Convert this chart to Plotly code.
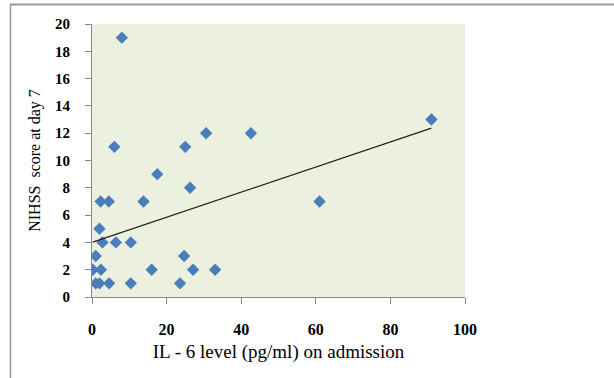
import plotly.graph_objects as go

# IL-6 level (pg/ml) on admission
il6 = [8, 6, 17.5, 25, 30.6, 42.6, 91, 61, 33, 26.3, 2.3, 4.5, 13.8, 2,
       2.8, 6.4, 10.4, 1, 24.7, 0.2, 2.4, 16, 27.1, 1, 2, 4.6, 10.4, 23.6]
# NIHSS score at day 7
nihss = [19, 11, 9, 11, 12, 12, 13, 7, 2, 8, 7, 7, 7, 5,
         4, 4, 4, 3, 3, 2, 2, 2, 2, 1, 1, 1, 1, 1]

# linear trend line
trend_intercept = 4.0
trend_slope = 0.092

x_ticks = [0, 20, 40, 60, 80, 100]
y_ticks = [0, 2, 4, 6, 8, 10, 12, 14, 16, 18, 20]

tx = [min(il6), max(il6)]
ty = [trend_intercept + trend_slope * v for v in tx]

fig = go.Figure()
fig.add_trace(go.Scatter(x=il6, y=nihss, mode="markers",
                         marker=dict(symbol="diamond", size=9.5, color="#4A7EBB",
                                     line=dict(width=0)),
                         showlegend=False, hoverinfo="skip"))
fig.add_trace(go.Scatter(x=tx, y=ty, mode="lines",
                         line=dict(color="#222222", width=1.2),
                         showlegend=False, hoverinfo="skip"))

W, H = 614, 378
L, R, T, B = 92, 149, 24, 81
pw, ph = W - L - R, H - T - B

def px_x(p):
    return (p - L) / pw

def px_y(p):
    return (H - B - p) / ph

fig.update_layout(
    width=W, height=H,
    margin=dict(l=L, r=R, t=T, b=B, pad=0),
    paper_bgcolor="white",
    plot_bgcolor="#EBF0DF",
    font=dict(family="Liberation Serif", color="#000000"),
    xaxis=dict(range=[0, 100], tickvals=x_ticks, ticks="outside", ticklen=6,
               tickcolor="#888888", showline=True, linecolor="#888888",
               linewidth=1, showgrid=False, zeroline=False,
               tickfont=dict(size=16, family="Liberation Serif", weight="bold"),
               ticklabelstandoff=12,
               title=dict(text="IL - 6 level (pg/ml) on admission",
                          font=dict(size=19, family="Liberation Serif"),
                          standoff=7)),
    yaxis=dict(range=[0, 20], tickvals=y_ticks, ticks="outside", ticklen=6,
               tickcolor="#888888", showline=True, linecolor="#888888",
               linewidth=1, showgrid=False, zeroline=False,
               tickfont=dict(size=15, family="Liberation Serif", weight="bold"),
               ticklabelstandoff=12,
               title=dict(text="NIHSS  score at day 7",
                          font=dict(size=16, family="Liberation Serif"),
                          standoff=10)),
    shapes=[
        dict(type="line", xref="paper", yref="paper",
             x0=px_x(10), x1=px_x(614), y0=px_y(4.5), y1=px_y(4.5),
             line=dict(color="#999999", width=2)),
        dict(type="line", xref="paper", yref="paper",
             x0=px_x(10.5), x1=px_x(10.5), y0=px_y(4), y1=px_y(378),
             line=dict(color="#999999", width=1.5)),
    ],
)

fig.write_html("out.html", config={"displayModeBar": False},
               post_script="document.body.style.margin='0';document.body.style.padding='0';")
